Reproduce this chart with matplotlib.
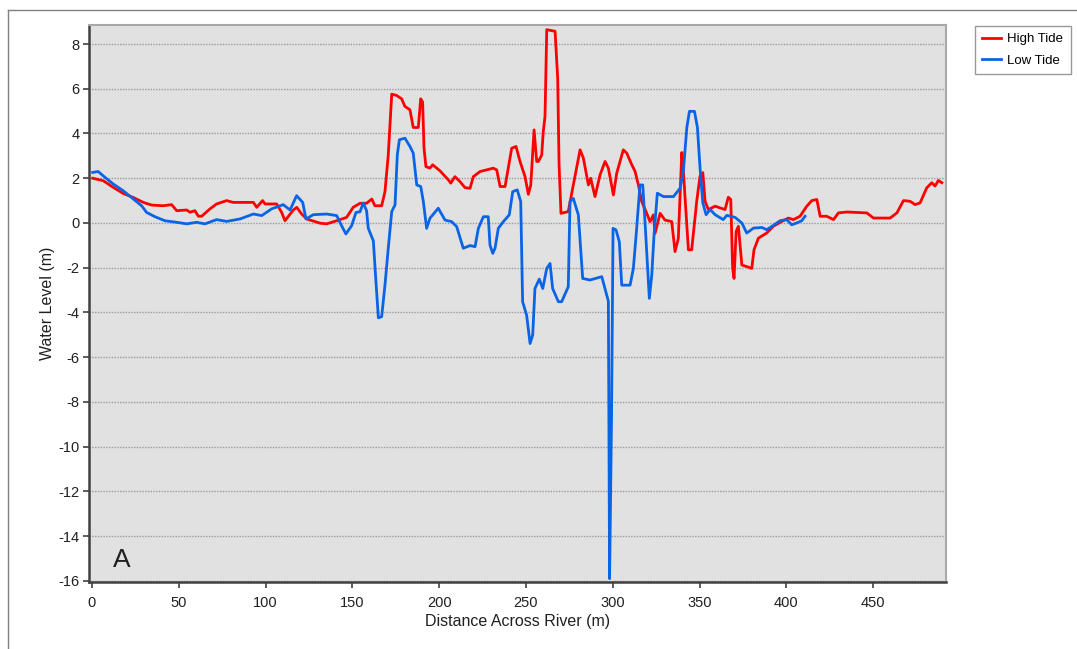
import matplotlib
matplotlib.use('Agg')
import matplotlib.pyplot as plt
from matplotlib.lines import Line2D

plt.rcParams['font.family'] = ['Liberation Sans', 'DejaVu Sans']
plt.rcParams['axes.unicode_minus'] = False

# High tide profile (distance m, water level m)
high_x = [0.4, 6.5, 12.3, 18, 23.8, 29.6, 34.4, 41, 45.9, 48.8, 54.6, 56.5, 59.3, 61.3, 63.2,
          68, 71.8, 77.6, 81.4, 93, 94.9, 98.3, 99.7, 106.4, 109.3, 111.2, 116, 118, 120.8,
          123.7, 131.4, 135.2, 141, 146.7, 150.5, 154.4, 158.2, 161.2, 163, 166.9, 168.8,
          170.7, 172.7, 175.5, 178.4, 180.3, 183.2, 185.1, 188, 189.4, 190.5, 191.3, 192.4,
          194.7, 196.3, 200.5, 205.3, 206.7, 209.1, 212, 214.9, 217.8, 219.7, 223.6, 231.2,
          233.2, 235.1, 238, 241.8, 244.3, 246.6, 249.5, 251.4, 252.8, 253.8, 254.7, 256.2,
          257.2, 259.1, 260, 261, 262, 266.8, 268.3, 269.1, 270.2, 274.4, 277.3, 281.2, 283.1,
          286, 287.3, 289.8, 292.7, 295.6, 297.5, 300.4, 302.3, 306.1, 308.1, 311, 312.9,
          314.8, 316.7, 319.6, 321.5, 323.4, 324.4, 327.3, 330.1, 334, 335.9, 337.8, 339.8,
          340.7, 343.6, 345.5, 348.4, 350.3, 351.9, 353.2, 355.1, 359, 364.7, 366.6, 368,
          369.1, 369.9, 371.1, 372.4, 374.4, 377.2, 380.1, 381.4, 383.9, 388.7, 392.5, 397.4,
          401.2, 404.1, 407.9, 411.8, 414.7, 417.6, 419.5, 423.3, 427.2, 430, 434.8, 446.4,
          450.2, 459.8, 463.7, 467.5, 471.3, 474.2, 477.1, 480.9, 483.8, 485.7, 487.6, 489.6]
high_y = [2.0, 1.89, 1.59, 1.32, 1.14, 0.92, 0.80, 0.77, 0.82, 0.55, 0.58, 0.48, 0.55, 0.30, 0.30,
          0.63, 0.85, 1.0, 0.92, 0.92, 0.70, 1.0, 0.85, 0.85, 0.47, 0.10, 0.58, 0.70, 0.40,
          0.18, -0.01, -0.04, 0.10, 0.25, 0.70, 0.88, 0.88, 1.07, 0.77, 0.77, 1.40,
          3.04, 5.76, 5.70, 5.55, 5.21, 5.06, 4.27, 4.27, 5.55, 5.40, 3.34, 2.52,
          2.45, 2.60, 2.33, 1.93, 1.78, 2.07, 1.85, 1.58, 1.55, 2.07, 2.30, 2.45,
          2.37, 1.63, 1.63, 3.34, 3.42, 2.75, 2.07, 1.28, 1.70, 3.0, 4.16, 2.75,
          2.75, 3.04, 4.09, 4.76, 8.64, 8.57, 6.48, 2.60, 0.43, 0.51, 1.70, 3.27, 2.90,
          1.70, 2.00, 1.18, 2.15, 2.75, 2.45, 1.25, 2.22, 3.27, 3.12, 2.60, 2.30,
          1.70, 0.96, 0.43, 0.06, 0.36, -0.46, 0.43, 0.13, 0.06, -1.28, -0.69, 3.15,
          2.32, -1.2, -1.2, 0.97, 2.1, 2.25, 0.97, 0.6, 0.75, 0.6, 1.15, 1.05,
          -2.03, -2.48, -0.38, -0.15, -1.88, -1.95, -2.03, -1.2, -0.68, -0.45, -0.15, 0.07,
          0.22, 0.15, 0.30, 0.75, 1.0, 1.05, 0.30, 0.30, 0.15, 0.45, 0.49, 0.45,
          0.22, 0.22, 0.45, 1.0, 0.97, 0.82, 0.90, 1.57, 1.80, 1.65, 1.90, 1.80]

# Low tide profile
low_x = [0.4, 3.6, 7.5, 12.3, 18, 23.8, 28.6, 31.5, 36.3, 42, 48.8, 54.6, 60.3, 65.1, 71.8,
         77.6, 85.3, 93, 97.8, 103.5, 110.2, 114.1, 117.9, 121.4, 123.3, 127.5, 135.2, 141,
         143.8, 146.3, 149.6, 152.1, 154.4, 156.3, 158.2, 159.2, 162.1, 163.5, 165, 166.9,
         168.8, 170.7, 172.7, 174.6, 175.9, 177.1, 180.3, 183.2, 185.1, 187.1, 189.4, 190.9,
         192.8, 194.7, 199.5, 203.4, 207.2, 210.1, 213.9, 217.8, 220.7, 222.6, 225.5, 228.3,
         229.3, 230.9, 232.2, 234.1, 237, 240.4, 242.4, 245, 247, 248.1, 250.4, 252.4, 253.9,
         255.2, 257.7, 259.7, 262, 263.9, 265.4, 268.7, 270.6, 274.4, 275.4, 277.3, 280.2,
         282.7, 286.9, 293.7, 296.5, 297.5, 298.2, 299.3, 300.2, 301.9, 303.8, 305.2, 310,
         311.9, 313.8, 315.7, 317.3, 318.6, 319.9, 321.1, 322.5, 323.8, 325.7, 329.2, 335,
         338.8, 340.7, 342.7, 344.2, 347.1, 348.8, 350.3, 351.9, 353.8, 356.1, 359, 363.7,
         365.7, 370.5, 374.4, 377.2, 381.1, 385.9, 388.7, 392.5, 396.4, 400.2, 403.1, 406,
         408.9, 410.8]
low_y = [2.26, 2.30, 2.04, 1.74, 1.44, 1.07, 0.77, 0.47, 0.28, 0.10, 0.03, -0.04, 0.03, -0.04, 0.15,
         0.07, 0.18, 0.40, 0.33, 0.63, 0.82, 0.58, 1.22, 0.92, 0.18, 0.37, 0.40, 0.33,
         -0.12, -0.49, -0.12, 0.47, 0.5, 0.89, 0.55, -0.24, -0.8, -2.5, -4.24, -4.19,
         -2.78, -1.13, 0.51, 0.81, 3.04, 3.72, 3.79, 3.42, 3.12, 1.70, 1.63, 0.96,
         -0.24, 0.21, 0.66, 0.13, 0.06, -0.16, -1.13, -1.01, -1.06, -0.24, 0.28, 0.28,
         -0.99, -1.36, -1.13, -0.24, 0.06, 0.36, 1.40, 1.48, 0.96, -3.52, -4.12, -5.39, -5.01,
         -2.93, -2.51, -2.93, -2.03, -1.81, -2.93, -3.52, -3.52, -2.85, 0.96, 1.10, 0.36,
         -2.48, -2.55, -2.40, -3.22, -3.5, -15.9, -8.8, -0.24, -0.31, -0.84, -2.78, -2.78,
         -2.03, -0.24, 1.70, 1.70, 0.06, -1.73, -3.37, -2.33, -0.54, 1.33, 1.18, 1.18,
         1.55, 2.32, 4.27, 4.99, 4.99, 4.27, 2.47, 0.90, 0.37, 0.60, 0.37, 0.15,
         0.34, 0.25, 0.0, -0.45, -0.23, -0.20, -0.30, -0.11, 0.10, 0.15, -0.08, 0.0,
         0.10, 0.30]

W, H = 1077, 649
fig = plt.figure(figsize=(W / 100, H / 100), dpi=100)
fig.patch.set_facecolor('white')

# outer frame (left and top edges visible)
fig.add_artist(Line2D([8 / W, 8 / W], [0, 1 - 10 / H], transform=fig.transFigure,
                      color='#7f7f7f', lw=1))
fig.add_artist(Line2D([8 / W, 1], [1 - 10 / H, 1 - 10 / H], transform=fig.transFigure,
                      color='#7f7f7f', lw=1))

ax = fig.add_axes([89 / W, 1 - 582 / H, (946 - 89) / W, (582 - 25) / H])
ax.set_facecolor('#E1E1E1')

ax.plot(high_x, high_y, color='#FF0000', lw=2, label='High Tide', zorder=3)
ax.plot(low_x, low_y, color='#0A64E6', lw=2, label='Low Tide', zorder=4)

ax.set_xlim(-1.7, 492)
ax.set_ylim(-16.05, 8.85)
ax.set_yticks(range(-16, 9, 2))
ax.set_xticks(range(0, 451, 50))
ax.yaxis.grid(True, linestyle=(0, (1, 1)), color='#9a9a9a', lw=1)
ax.set_axisbelow(True)

for s in ['left', 'bottom']:
    ax.spines[s].set_color('#404040')
    ax.spines[s].set_linewidth(1.8)
for s in ['top', 'right']:
    ax.spines[s].set_color('#a8a8a8')
    ax.spines[s].set_linewidth(1.5)

ax.tick_params(direction='out', length=4, width=1.2, color='#404040',
               labelsize=10.5, labelcolor='#202020')
ax.tick_params(axis='x', pad=6)
ax.tick_params(axis='y', pad=3)

ax.set_xlabel('Distance Across River (m)', fontsize=11.5, color='#202020', labelpad=3)
ax.set_ylabel('Water Level (m)', fontsize=11.5, color='#202020', va='center')
# label centre sits about 41 px left of the plot area
ax.yaxis.set_label_coords(-41 / 857, 0.5)

fig.text(122 / W, 1 - 560 / H, 'A', fontsize=19, color='#202020',
         ha='center', va='center')

leg = fig.legend(loc='upper left', bbox_to_anchor=(975 / W, 1 - 26 / H),
                 fontsize=9.5, frameon=True, fancybox=False, handlelength=1.4,
                 borderpad=0.55, labelspacing=0.7, handletextpad=0.5, borderaxespad=0)
leg.get_frame().set_edgecolor('#808080')
leg.get_frame().set_linewidth(1)

fig.savefig('out.png', dpi=100)
